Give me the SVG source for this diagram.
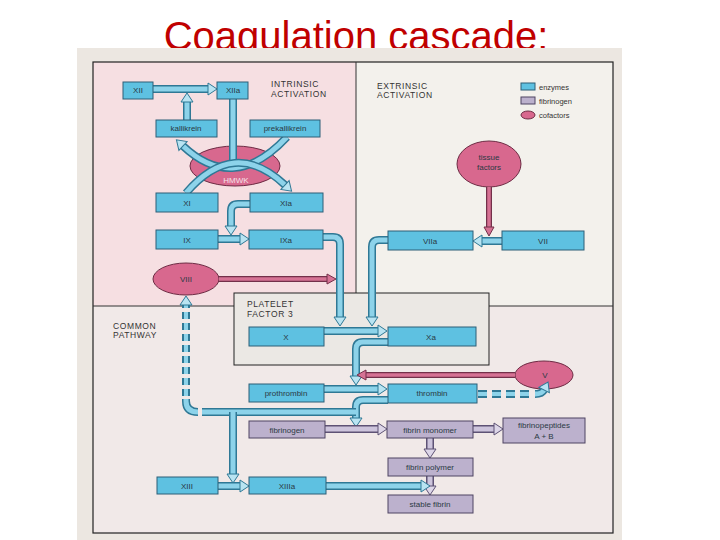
<svg xmlns="http://www.w3.org/2000/svg" width="720" height="540" viewBox="0 0 720 540">
<defs>
<style>
.t{font-family:"Liberation Sans",Arial,sans-serif;font-size:8px;fill:#2b3a44;text-anchor:middle}
.h{font-family:"Liberation Sans",Arial,sans-serif;font-size:8.5px;fill:#333;letter-spacing:0.6px}
.lg{font-family:"Liberation Sans",Arial,sans-serif;font-size:7.5px;fill:#333}
.enz{fill:#5ec1e1;stroke:#2c5f77;stroke-width:1}
.fib{fill:#bcb1cd;stroke:#4f4562;stroke-width:1}
.cof{fill:#d8688e;stroke:#6d2c44;stroke-width:1}
.po{fill:none;stroke:#2f7895;stroke-width:8}
.pi{fill:none;stroke:#8dd3ea;stroke-width:5}
.fo{fill:none;stroke:#5e5275;stroke-width:8}
.fi{fill:none;stroke:#cdc4dc;stroke-width:5}
.ko{fill:none;stroke:#73304a;stroke-width:6}
.ki{fill:none;stroke:#d67294;stroke-width:3.5}
</style>
<marker id="ab" markerUnits="userSpaceOnUse" markerWidth="12" markerHeight="14" refX="0" refY="7" orient="auto" overflow="visible"><path d="M0,1 L9,7 L0,13 z" fill="#b9e4f2" stroke="#2f7895" stroke-width="1"/></marker>
<marker id="af" markerUnits="userSpaceOnUse" markerWidth="12" markerHeight="14" refX="0" refY="7" orient="auto" overflow="visible"><path d="M0,1 L9,7 L0,13 z" fill="#ddd6e8" stroke="#5e5275" stroke-width="1"/></marker>
<marker id="ak" markerUnits="userSpaceOnUse" markerWidth="12" markerHeight="14" refX="0" refY="6" orient="auto" overflow="visible"><path d="M0,1 L9,6 L0,11 z" fill="#d67294" stroke="#73304a" stroke-width="1"/></marker>
</defs>
<rect x="0" y="0" width="720" height="540" fill="#ffffff"/>
<text x="356" y="50" font-family="Liberation Sans, Arial, sans-serif" font-size="40" fill="#c00000" text-anchor="middle">Coagulation cascade:</text>
<rect x="77" y="48" width="545" height="492" fill="#ece7e1"/>
<g id="regions">
<rect x="93" y="62" width="263" height="244" fill="#f6dfe2"/>
<rect x="356" y="62" width="257" height="244" fill="#f3f1ec"/>
<rect x="93" y="306" width="520" height="227" fill="#f1e9e8"/>
<rect x="93" y="62" width="520" height="471" fill="none" stroke="#222" stroke-width="1.2"/>
<line x1="356" y1="62" x2="356" y2="293" stroke="#333" stroke-width="1"/>
<line x1="93" y1="306" x2="234" y2="306" stroke="#333" stroke-width="1"/>
<line x1="489" y1="306" x2="613" y2="306" stroke="#333" stroke-width="1"/>
<rect x="234" y="293" width="255" height="72" fill="#ebe8e4" stroke="#222" stroke-width="1"/>
<text class="h" x="271" y="87">INTRINSIC</text>
<text class="h" x="271" y="97">ACTIVATION</text>
<text class="h" x="377" y="89">EXTRINSIC</text>
<text class="h" x="377" y="98">ACTIVATION</text>
<text class="h" x="247" y="307">PLATELET</text>
<text class="h" x="247" y="317">FACTOR 3</text>
<text class="h" x="113" y="329">COMMON</text>
<text class="h" x="113" y="338">PATHWAY</text>
</g>
<g id="legend">
<rect class="enz" x="521" y="83" width="14" height="7"/>
<rect class="fib" x="521" y="97" width="14" height="7"/>
<ellipse class="cof" cx="528" cy="115" rx="7" ry="4"/>
<text class="lg" x="539" y="90">enzymes</text>
<text class="lg" x="539" y="104">fibrinogen</text>
<text class="lg" x="539" y="118">cofactors</text>
</g>
<g id="n-HMWK"><ellipse class="cof" cx="235" cy="166" rx="45" ry="20"/><text class="t" x="236" y="183" style="fill:#f6e2e9">HMWK</text></g>
<g id="n-tissue"><ellipse class="cof" cx="489" cy="164" rx="32" ry="23"/><text class="t" x="489" y="160">tissue</text><text class="t" x="489" y="170">factors</text></g>
<g id="n-VIII"><ellipse class="cof" cx="186" cy="279" rx="33" ry="16"/><text class="t" x="186" y="282">VIII</text></g>
<g id="n-V"><ellipse class="cof" cx="544" cy="375" rx="29" ry="14"/><text class="t" x="545" y="378">V</text></g>
<g id="connectors">
<path class="po" d="M153,89 L208,89"/><path class="pi" d="M153,89 L208,89" marker-end="url(#ab)"/>
<path class="po" d="M187,120 L187,102"/><path class="pi" d="M187,120 L187,102" marker-end="url(#ab)"/>
<path class="po" d="M233,99 L233,165"/><path class="pi" d="M233,99 L233,165"/>
<path class="po" d="M287,137 Q234,194 183,146"/><path class="pi" d="M287,137 Q234,194 183,146" marker-end="url(#ab)"/>
<path class="po" d="M186,193 Q234,137 285,185"/><path class="pi" d="M186,193 Q234,137 285,185" marker-end="url(#ab)"/>
<path class="po" d="M250,204 L238,204 Q231,204 231,211 L231,226"/><path class="pi" d="M250,204 L238,204 Q231,204 231,211 L231,226" marker-end="url(#ab)"/>
<path class="po" d="M218,239 L240,239"/><path class="pi" d="M218,239 L240,239" marker-end="url(#ab)"/>
<path class="po" d="M323,237 L333,237 Q340,237 340,244 L340,317"/><path class="pi" d="M323,237 L333,237 Q340,237 340,244 L340,317" marker-end="url(#ab)"/>
<path class="ko" d="M219,279 L327,279"/><path class="ki" d="M219,279 L327,279" marker-end="url(#ak)"/>
<path class="po" d="M502,241 L482,241"/><path class="pi" d="M502,241 L482,241" marker-end="url(#ab)"/>
<path class="ko" d="M489,187 L489,227"/><path class="ki" d="M489,187 L489,227" marker-end="url(#ak)"/>
<path class="po" d="M388,240 L379,240 Q372,240 372,247 L372,317"/><path class="pi" d="M388,240 L379,240 Q372,240 372,247 L372,317" marker-end="url(#ab)"/>
<path class="po" d="M324,331 L378,331"/><path class="pi" d="M324,331 L378,331" marker-end="url(#ab)"/>
<path class="po" d="M388,342 L363,342 Q356,342 356,349 L356,376"/><path class="pi" d="M388,342 L363,342 Q356,342 356,349 L356,376" marker-end="url(#ab)"/>
<path class="ko" d="M515,375 L366,375"/><path class="ki" d="M515,375 L366,375" marker-end="url(#ak)"/>
<path class="po" d="M324,389 L378,389"/><path class="pi" d="M324,389 L378,389" marker-end="url(#ab)"/>
<path class="po" d="M478,394 L533,394" stroke-dasharray="9 5"/><path class="pi" d="M478,394 L533,394" stroke-dasharray="9 5" style="stroke-width:4"/>
<path class="po" d="M535,394 Q542,394 544,390"/><path class="pi" d="M535,394 Q542,394 544,390" marker-end="url(#ab)"/>
<path class="po" d="M388,400 L363,400 Q356,400 356,407 L356,418"/><path class="pi" d="M388,400 L363,400 Q356,400 356,407 L356,418" marker-end="url(#ab)"/>
<path class="po" d="M356,412 L202,412"/><path class="pi" d="M356,412 L202,412"/>
<path class="po" d="M233,412 L233,474"/><path class="pi" d="M233,412 L233,474" marker-end="url(#ab)"/>
<path class="po" d="M198,412 Q186,412 186,401 L186,399"/><path class="pi" d="M198,412 Q186,412 186,401 L186,399"/>
<path class="po" d="M186,396 L186,305" stroke-dasharray="7 4"/><path class="pi" d="M186,396 L186,305" stroke-dasharray="7 4" style="stroke-width:4"/>
<path class="pi" d="M186,306 L186,305" marker-end="url(#ab)" style="stroke:none"/>
<path class="fo" d="M325,429 L378,429"/><path class="fi" d="M325,429 L378,429" marker-end="url(#af)"/>
<path class="fo" d="M473,429 L494,429"/><path class="fi" d="M473,429 L494,429" marker-end="url(#af)"/>
<path class="fo" d="M430,438 L430,449"/><path class="fi" d="M430,438 L430,449" marker-end="url(#af)"/>
<path class="fo" d="M430,476 L430,486"/><path class="fi" d="M430,476 L430,486" marker-end="url(#af)"/>
<path class="po" d="M326,486 L421,486"/><path class="pi" d="M326,486 L421,486" marker-end="url(#ab)"/>
<path class="po" d="M218,486 L240,486"/><path class="pi" d="M218,486 L240,486" marker-end="url(#ab)"/>
</g>
<g id="n-XII"><rect class="enz" x="123" y="82" width="30" height="17"/><text class="t" x="138" y="93">XII</text></g>
<g id="n-XIIa"><rect class="enz" x="217" y="82" width="31" height="17"/><text class="t" x="233" y="93">XIIa</text></g>
<g id="n-kallikrein"><rect class="enz" x="156" y="120" width="61" height="17"/><text class="t" x="186" y="131">kallikrein</text></g>
<g id="n-prekallikrein"><rect class="enz" x="250" y="120" width="70" height="17"/><text class="t" x="285" y="131">prekallikrein</text></g>
<g id="n-XI"><rect class="enz" x="156" y="193" width="62" height="19"/><text class="t" x="187" y="206">XI</text></g>
<g id="n-XIa"><rect class="enz" x="250" y="193" width="73" height="19"/><text class="t" x="286" y="206">XIa</text></g>
<g id="n-IX"><rect class="enz" x="156" y="230" width="62" height="19"/><text class="t" x="187" y="243">IX</text></g>
<g id="n-IXa"><rect class="enz" x="249" y="230" width="74" height="19"/><text class="t" x="286" y="243">IXa</text></g>
<g id="n-VIIa"><rect class="enz" x="388" y="231" width="85" height="19"/><text class="t" x="430" y="244">VIIa</text></g>
<g id="n-VII"><rect class="enz" x="502" y="231" width="82" height="19"/><text class="t" x="543" y="244">VII</text></g>
<g id="n-X"><rect class="enz" x="249" y="327" width="75" height="19"/><text class="t" x="286" y="340">X</text></g>
<g id="n-Xa"><rect class="enz" x="388" y="327" width="88" height="19"/><text class="t" x="431" y="340">Xa</text></g>
<g id="n-prothrombin"><rect class="enz" x="249" y="384" width="75" height="18"/><text class="t" x="286" y="396">prothrombin</text></g>
<g id="n-thrombin"><rect class="enz" x="388" y="384" width="89" height="19"/><text class="t" x="432" y="396">thrombin</text></g>
<g id="n-fibrinogen"><rect class="fib" x="249" y="421" width="76" height="17"/><text class="t" x="287" y="433">fibrinogen</text></g>
<g id="n-monomer"><rect class="fib" x="387" y="421" width="86" height="17"/><text class="t" x="430" y="433">fibrin monomer</text></g>
<g id="n-peptides"><rect class="fib" x="503" y="418" width="82" height="25"/><text class="t" x="544" y="428">fibrinopeptides</text><text class="t" x="544" y="439">A + B</text></g>
<g id="n-polymer"><rect class="fib" x="388" y="458" width="85" height="18"/><text class="t" x="430" y="470">fibrin polymer</text></g>
<g id="n-stable"><rect class="fib" x="388" y="495" width="85" height="18"/><text class="t" x="430" y="507">stable fibrin</text></g>
<g id="n-XIII"><rect class="enz" x="157" y="477" width="61" height="17"/><text class="t" x="187" y="489">XIII</text></g>
<g id="n-XIIIa"><rect class="enz" x="249" y="477" width="77" height="17"/><text class="t" x="287" y="489">XIIIa</text></g>
</svg>
